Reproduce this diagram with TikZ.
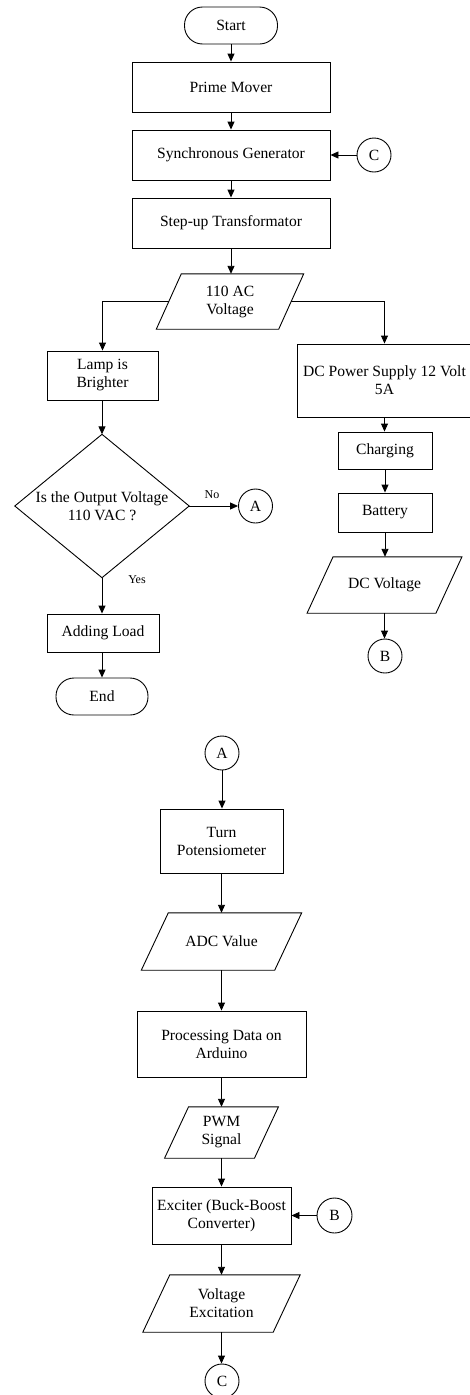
\documentclass[tikz,border=0pt]{standalone}
\usepackage{fontspec}
\setmainfont{Liberation Serif}
\usetikzlibrary{arrows.meta,calc}
\newcommand{\drawpara}[2]{\draw[shapeline] ([xshift=-#2pt]#1.south west) -- ([xshift=-#2pt]#1.south east) -- ([xshift=#2pt]#1.north east) -- ([xshift=#2pt]#1.north west) -- cycle;}
\tikzset{
  shapeline/.style={line width=0.9pt},
  box/.style={draw, shapeline, rectangle, inner sep=2pt, align=center, minimum width=#1},
  term/.style={draw, shapeline, rectangle, rounded corners=18pt, inner sep=2pt, align=center},
  iobox/.style={rectangle, inner sep=2pt, align=center},
  conn/.style={draw, shapeline, circle, minimum size=34pt, inner sep=0pt},
  flow/.style={line width=0.9pt, -{Triangle[length=8pt,width=7pt]}},
  lbl/.style={font=\fontsize{12}{14}\selectfont, inner sep=1pt}
}
\begin{document}
\begin{tikzpicture}[x=1pt,y=-1pt, font=\fontsize{15.6}{18}\selectfont]
\useasboundingbox (0,0) rectangle (470,1395);
% upper chart
\node[term, minimum width=93pt, minimum height=37pt] (start) at (231,25.5) {Start};
\node[box=198pt, minimum height=50pt] (prime) at (231,87) {Prime Mover};
\node[box=198pt, minimum height=50pt] (sync) at (231,155) {Synchronous Generator};
\node[conn] (c1) at (374,155) {C};
\node[box=198pt, minimum height=50pt] (stepup) at (231,223) {Step-up Transformator};
\node[iobox, minimum width=122pt, minimum height=55pt] (ac) at (230,301.5) {110 AC\\Voltage};
\drawpara{ac}{12.5}
\node[box=111pt, minimum height=49pt] (lamp) at (102.5,375.5) {Lamp is\\Brighter};
\node[box=175pt, minimum height=73pt] (dcps) at (384.5,380.5) {DC Power Supply 12 Volt\\5A};
\node[box=94pt, minimum height=37pt] (charging) at (385,450.5) {Charging};
\node[box=94pt, minimum height=39pt] (battery) at (385,512.5) {Battery};
\node[iobox, minimum width=128.5pt, minimum height=56pt] (dcv) at (384.5,585) {DC Voltage};
\drawpara{dcv}{13}
\node[conn] (b1) at (385,656) {B};
\node[iobox, minimum width=174pt, minimum height=143pt] (dec) at (102,506) {Is the Output Voltage\\110 VAC ?};
\draw[shapeline] (dec.north) -- (dec.east) -- (dec.south) -- (dec.west) -- cycle;
\node[conn] (a1) at (255.5,506) {A};
\node[box=112pt, minimum height=38pt] (addload) at (103,633) {Adding Load};
\node[term, minimum width=92pt, minimum height=37pt] (end) at (102,696.5) {End};
\node[lbl] (nolbl) at (212,495) {No};
\node[lbl] (yeslbl) at (137,580) {Yes};

\draw[flow] (start.south) -- (start.south |- prime.north);
\draw[flow] (prime) -- (sync);
\draw[flow] (sync) -- (stepup);
\draw[flow] (c1) -- (sync);
\draw[flow] (stepup.south) -- (stepup.south |- ac.north);
\draw[flow] (ac.west) -| (lamp.north);
\draw[flow] (ac.east) -| (dcps.north);
\draw[flow] (lamp.south) -- (lamp.south -| dec.north) -- (dec.north);
\draw[flow] (dec.east) -- (a1.west);
\draw[flow] (dec.south) -- (dec.south |- addload.north);
\draw[flow] (addload.south -| end.north) -- (end.north);
\draw[flow] (dcps.south) -- (dcps.south |- charging.north);
\draw[flow] (charging) -- (battery);
\draw[flow] (battery.south) -- (battery.south |- dcv.north);
\draw[flow] (dcv.south) -- (dcv.south |- b1.north);

% lower chart
\node[conn] (a2) at (222,753) {A};
\node[box=123pt, minimum height=64pt] (turn) at (221.5,841) {Turn\\Potensiometer};
\node[iobox, minimum width=133pt, minimum height=57pt] (adc) at (221.5,941.5) {ADC Value};
\drawpara{adc}{13.5}
\node[box=169pt, minimum height=66pt] (proc) at (221.5,1044) {Processing Data on\\Arduino};
\node[iobox, minimum width=89.5pt, minimum height=51pt] (pwm) at (221.5,1132.5) {PWM\\Signal};
\drawpara{pwm}{12}
\node[box=139pt, minimum height=57pt] (exc) at (221.5,1215.5) {Exciter (Buck-Boost\\Converter)};
\node[conn, minimum size=35pt] (b2) at (334.5,1215.5) {B};
\node[iobox, minimum width=130pt, minimum height=57pt] (ve) at (221.5,1303.5) {Voltage\\Excitation};
\drawpara{ve}{13.5}
\node[conn] (c2) at (222,1381) {C};

\draw[flow] (a2.south) -- (a2.south |- turn.north);
\draw[flow] (turn) -- (adc);
\draw[flow] (adc) -- (proc);
\draw[flow] (proc) -- (pwm);
\draw[flow] (pwm) -- (exc);
\draw[flow] (b2) -- (exc);
\draw[flow] (exc) -- (ve);
\draw[flow] (ve.south) -- (ve.south |- c2.north);
\end{tikzpicture}
\end{document}
